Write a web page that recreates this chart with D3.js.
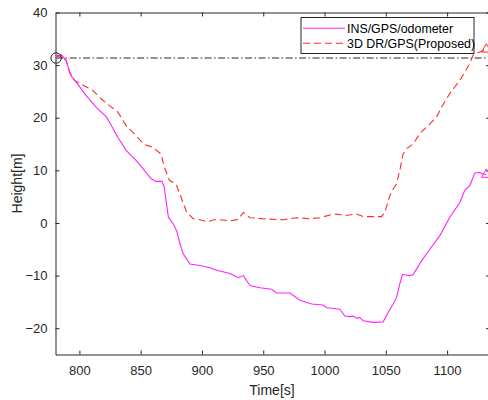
<!DOCTYPE html>
<html>
<head>
<meta charset="utf-8">
<script src="https://cdn.jsdelivr.net/npm/d3@7"></script>
<style>
  body { margin: 0; background: #fff; }
  svg { font-family: "Liberation Sans", Arial, Helvetica, sans-serif; }
  .axis path, .axis line { stroke: #262626; }
  .axis text { fill: #262626; font-size: 13px; }
</style>
</head>
<body>
<div id="root"></div>
<script>
// INS/GPS/odometer (magenta, solid)
const timeIns = [781, 785, 789, 793, 797.3, 805.5, 813.6, 821.8, 824.5, 831.3, 838.1, 846.2, 853, 858.5, 862.5, 867.4,
  869.3, 870.7, 872.6, 876.6, 879.4, 882.1, 884.8, 890.2, 898.4, 906.5, 912, 922.9, 926, 929.6, 933.7, 939.2, 947.3,
  956.8, 960.9, 971.8, 979.9, 989.5, 998.9, 1001.7, 1012.5, 1016.6, 1020.7, 1023.4, 1026.1, 1028.8, 1031.5, 1039.7,
  1047.8, 1051.9, 1056, 1058.7, 1061.4, 1063.6, 1069.6, 1072.3, 1079.1, 1085.9, 1094.1, 1102.2, 1110.4, 1114.4,
  1118.5, 1122.6, 1126.7, 1129.3, 1132];
const heightIns = [31.35, 32.0, 31.0, 28.0, 26.8, 24.2, 22.0, 20.2, 19.2, 16.3, 13.8, 11.9, 10.0, 8.4, 7.9, 7.9,
  6.8, 4.2, 1.1, -0.2, -1.5, -4.0, -5.9, -7.8, -8.1, -8.5, -9.0, -9.6, -10.0, -10.4, -10.0, -11.9, -12.3,
  -12.6, -13.3, -13.3, -14.7, -15.4, -15.6, -16.1, -16.4, -17.7, -17.8, -17.7, -18.1, -18.0, -18.6, -18.9,
  -18.8, -17.0, -15.4, -14.2, -11.6, -9.8, -10.0, -9.8, -7.2, -5.0, -2.4, 1.1, 3.9, 6.2,
  7.1, 9.5, 9.6, 9.3, 9.2];

// 3D DR/GPS (Proposed) (red, dashed)
const timeDr = [781, 782.4, 789.2, 792, 795.9, 802.8, 810.9, 817.7, 824.5, 831.3, 838.1, 846.2, 853, 859.8, 866.6,
  869.3, 873.4, 878.8, 882.9, 887.6, 892.9, 898.4, 905.2, 909.2, 914.7, 922.9, 929.6, 933.7, 939.2, 950, 966.3,
  977.2, 988.1, 996.2, 1004.4, 1009.8, 1016.6, 1026.1, 1031.5, 1046.5, 1049.2, 1053.3, 1056, 1058.7, 1061.4,
  1064.1, 1066.8, 1072.3, 1077.7, 1084.5, 1091.4, 1095.4, 1102.2, 1110.4, 1118.5, 1121.2, 1126.7, 1132];
const heightDr = [31.35, 31.9, 30.9, 28.7, 27.1, 26.2, 25.2, 23.6, 22.3, 21.1, 18.5, 16.6, 14.9, 14.4, 13.1,
  10.6, 8.1, 7.4, 4.9, 2.0, 0.8, 0.6, 0.2, 0.6, 0.6, 0.4, 0.7, 2.0, 1.0, 0.8, 0.6,
  1.0, 0.8, 1.0, 1.5, 1.7, 1.4, 1.7, 1.2, 1.2, 2.0, 5.2, 6.5, 7.4, 10.0,
  13.1, 14.1, 15.0, 17.0, 18.5, 20.1, 22.0, 24.6, 27.1, 30.3, 31.9, 32.5, 33.0];

const refHeight = 31.35;
const xTicks = [800, 850, 900, 950, 1000, 1050, 1100];
const yTicks = [-20, -10, 0, 10, 20, 30, 40];
const seriesNames = ["INS/GPS/odometer", "3D DR/GPS(Proposed)"];

const W = 488, H = 400;
const margin = {top: 12.5, right: -2, bottom: 45.5, left: 55.5},
    width = W - margin.left - margin.right,
    height = H - margin.top - margin.bottom;

const svg = d3.select("#root").append("svg")
    .attr("width", W)
    .attr("height", H);

const g = svg.append("g")
    .attr("transform", "translate(" + margin.left + "," + margin.top + ")");

const x = d3.scaleLinear().domain([780.5, 1135]).range([0, width]);
const y = d3.scaleLinear().domain([-25, 40]).range([height, 0]);

// axes, ticks pointing inward like MATLAB
const xAxis = d3.axisBottom(x).tickValues(xTicks).tickFormat(d3.format("d"))
    .tickSizeInner(-4).tickSizeOuter(0).tickPadding(11);
const yAxis = d3.axisLeft(y).tickValues(yTicks).tickFormat(d3.format("d"))
    .tickSizeInner(-4).tickSizeOuter(0).tickPadding(8);

g.append("g").attr("class", "axis")
    .attr("transform", "translate(0," + height + ")")
    .call(xAxis);
g.append("g").attr("class", "axis")
    .call(yAxis);
g.append("g").attr("class", "axis")
    .call(d3.axisTop(x).tickValues(xTicks).tickSizeInner(-4).tickSizeOuter(0).tickFormat(""));
g.append("g").attr("class", "axis")
    .attr("transform", "translate(" + width + ",0)")
    .call(d3.axisRight(y).tickValues(yTicks).tickSizeInner(-4).tickSizeOuter(0).tickFormat(""));

// clip to plot area
g.append("clipPath").attr("id", "clip")
  .append("rect").attr("x", -8).attr("y", -8).attr("width", width + 16).attr("height", height + 16);
const plot = g.append("g").attr("clip-path", "url(#clip)");

// reference line
plot.append("line")
    .attr("x1", x(timeIns[0])).attr("x2", width)
    .attr("y1", y(refHeight)).attr("y2", y(refHeight))
    .attr("stroke", "#262626").attr("stroke-width", 1)
    .attr("stroke-dasharray", "7,2.5,1.5,2.5");

const line = d3.line().x(d => x(d[0])).y(d => y(d[1]));
const insData = d3.zip(timeIns, heightIns);
const drData = d3.zip(timeDr, heightDr);

plot.append("path").datum(drData)
    .attr("d", line)
    .attr("fill", "none").attr("stroke", "#ff2a2a").attr("stroke-width", 1.1)
    .attr("stroke-dasharray", "7,4");

plot.append("path").datum(insData)
    .attr("d", line)
    .attr("fill", "none").attr("stroke", "#ff22ff").attr("stroke-width", 1.1);

// start circle
plot.append("circle")
    .attr("cx", x(timeIns[0])).attr("cy", y(heightIns[0])).attr("r", 5.2)
    .attr("fill", "none").attr("stroke", "#262626").attr("stroke-width", 1);

// end triangles
const tri = d3.symbol().type(d3.symbolTriangle).size(40);
[[insData, "#ff22ff"], [drData, "#ff2a2a"]].forEach(([data, c]) => {
    const last = data[data.length - 1];
    plot.append("path")
        .attr("d", tri)
        .attr("transform", "translate(" + x(last[0]) + "," + y(last[1]) + ")")
        .attr("fill", "none").attr("stroke", c).attr("stroke-width", 1);
});

// axis labels
svg.append("text")
    .text("Time[s]")
    .attr("x", 272).attr("y", 395)
    .attr("text-anchor", "middle")
    .attr("font-size", "14px").attr("fill", "#262626");

svg.append("text")
    .text("Height[m]")
    .attr("transform", "translate(22," + (margin.top + height / 2) + ") rotate(-90)")
    .attr("text-anchor", "middle")
    .attr("font-size", "14px").attr("fill", "#262626");

// legend
const leg = svg.append("g").attr("transform", "translate(301,17.5)");
leg.append("rect")
    .attr("width", 173).attr("height", 36)
    .attr("fill", "#fff").attr("stroke", "#262626").attr("stroke-width", 1);

const legStyles = [{c: "#ff22ff", dash: null}, {c: "#ff2a2a", dash: "7,4"}];
seriesNames.forEach((name, i) => {
    const yy = 10.8 + i * 15;
    leg.append("line")
        .attr("x1", 2).attr("x2", 44).attr("y1", yy).attr("y2", yy)
        .attr("stroke", legStyles[i].c).attr("stroke-width", 1.1)
        .attr("stroke-dasharray", legStyles[i].dash);
    leg.append("text")
        .text(name)
        .attr("x", 46).attr("y", yy + 4.3)
        .attr("font-size", "12.4px").attr("fill", "#000");
});
</script>
</body>
</html>
